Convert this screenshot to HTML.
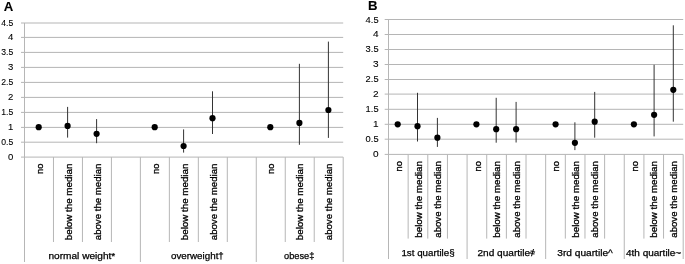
<!DOCTYPE html>
<html lang="en">
<head>
<meta charset="utf-8">
<title>Figure</title>
<style>
html,body{margin:0;padding:0;background:#fff;}
svg{display:block;font-family:"Liberation Sans", sans-serif;}
</style>
</head>
<body>
<svg width="685" height="264" viewBox="0 0 685 264">
<rect width="685" height="264" fill="#fff"/>
<line x1="21.00" y1="157.10" x2="343.20" y2="157.10" stroke="#b5b5b5" stroke-width="1"/>
<text x="13.30" y="159.70" font-size="9.5" text-anchor="end" textLength="5.3" lengthAdjust="spacingAndGlyphs" fill="#000" stroke="#000" stroke-width="0.1">0</text>
<line x1="21.00" y1="142.20" x2="343.20" y2="142.20" stroke="#b5b5b5" stroke-width="1"/>
<text x="13.30" y="144.80" font-size="9.5" text-anchor="end" textLength="12.0" lengthAdjust="spacingAndGlyphs" fill="#000" stroke="#000" stroke-width="0.1">0.5</text>
<line x1="21.00" y1="127.40" x2="343.20" y2="127.40" stroke="#b5b5b5" stroke-width="1"/>
<text x="13.30" y="130.00" font-size="9.5" text-anchor="end" textLength="5.3" lengthAdjust="spacingAndGlyphs" fill="#000" stroke="#000" stroke-width="0.1">1</text>
<line x1="21.00" y1="112.40" x2="343.20" y2="112.40" stroke="#b5b5b5" stroke-width="1"/>
<text x="13.30" y="115.00" font-size="9.5" text-anchor="end" textLength="12.0" lengthAdjust="spacingAndGlyphs" fill="#000" stroke="#000" stroke-width="0.1">1.5</text>
<line x1="21.00" y1="97.40" x2="343.20" y2="97.40" stroke="#b5b5b5" stroke-width="1"/>
<text x="13.30" y="100.00" font-size="9.5" text-anchor="end" textLength="5.3" lengthAdjust="spacingAndGlyphs" fill="#000" stroke="#000" stroke-width="0.1">2</text>
<line x1="21.00" y1="82.40" x2="343.20" y2="82.40" stroke="#b5b5b5" stroke-width="1"/>
<text x="13.30" y="85.00" font-size="9.5" text-anchor="end" textLength="12.0" lengthAdjust="spacingAndGlyphs" fill="#000" stroke="#000" stroke-width="0.1">2.5</text>
<line x1="21.00" y1="67.40" x2="343.20" y2="67.40" stroke="#b5b5b5" stroke-width="1"/>
<text x="13.30" y="70.00" font-size="9.5" text-anchor="end" textLength="5.3" lengthAdjust="spacingAndGlyphs" fill="#000" stroke="#000" stroke-width="0.1">3</text>
<line x1="21.00" y1="52.40" x2="343.20" y2="52.40" stroke="#b5b5b5" stroke-width="1"/>
<text x="13.30" y="55.00" font-size="9.5" text-anchor="end" textLength="12.0" lengthAdjust="spacingAndGlyphs" fill="#000" stroke="#000" stroke-width="0.1">3.5</text>
<line x1="21.00" y1="37.40" x2="343.20" y2="37.40" stroke="#b5b5b5" stroke-width="1"/>
<text x="13.30" y="40.00" font-size="9.5" text-anchor="end" textLength="5.3" lengthAdjust="spacingAndGlyphs" fill="#000" stroke="#000" stroke-width="0.1">4</text>
<line x1="21.00" y1="23.00" x2="343.20" y2="23.00" stroke="#b5b5b5" stroke-width="1"/>
<text x="13.30" y="25.60" font-size="9.5" text-anchor="end" textLength="12.0" lengthAdjust="spacingAndGlyphs" fill="#000" stroke="#000" stroke-width="0.1">4.5</text>
<line x1="24.50" y1="23.00" x2="24.50" y2="262.00" stroke="#b6b6b6" stroke-width="1"/>
<line x1="53.47" y1="157.10" x2="53.47" y2="242.00" stroke="#b6b6b6" stroke-width="1"/>
<line x1="82.45" y1="157.10" x2="82.45" y2="242.00" stroke="#b6b6b6" stroke-width="1"/>
<line x1="111.42" y1="157.10" x2="111.42" y2="242.00" stroke="#b6b6b6" stroke-width="1"/>
<line x1="140.39" y1="157.10" x2="140.39" y2="262.00" stroke="#b6b6b6" stroke-width="1"/>
<line x1="169.36" y1="157.10" x2="169.36" y2="242.00" stroke="#b6b6b6" stroke-width="1"/>
<line x1="198.34" y1="157.10" x2="198.34" y2="242.00" stroke="#b6b6b6" stroke-width="1"/>
<line x1="227.31" y1="157.10" x2="227.31" y2="242.00" stroke="#b6b6b6" stroke-width="1"/>
<line x1="256.28" y1="157.10" x2="256.28" y2="262.00" stroke="#b6b6b6" stroke-width="1"/>
<line x1="285.25" y1="157.10" x2="285.25" y2="242.00" stroke="#b6b6b6" stroke-width="1"/>
<line x1="314.23" y1="157.10" x2="314.23" y2="242.00" stroke="#b6b6b6" stroke-width="1"/>
<line x1="343.20" y1="157.10" x2="343.20" y2="262.00" stroke="#b6b6b6" stroke-width="1"/>
<text x="42.69" y="163.60" font-size="9.5" text-anchor="end" textLength="10.3" lengthAdjust="spacingAndGlyphs" transform="rotate(-90 42.69 163.60)" fill="#000" stroke="#000" stroke-width="0.3">no</text>
<text x="71.66" y="163.60" font-size="9.5" text-anchor="end" textLength="76.6" lengthAdjust="spacingAndGlyphs" transform="rotate(-90 71.66 163.60)" fill="#000" stroke="#000" stroke-width="0.3">below the median</text>
<text x="100.63" y="163.60" font-size="9.5" text-anchor="end" textLength="76.6" lengthAdjust="spacingAndGlyphs" transform="rotate(-90 100.63 163.60)" fill="#000" stroke="#000" stroke-width="0.3">above the median</text>
<text x="158.58" y="163.60" font-size="9.5" text-anchor="end" textLength="10.3" lengthAdjust="spacingAndGlyphs" transform="rotate(-90 158.58 163.60)" fill="#000" stroke="#000" stroke-width="0.3">no</text>
<text x="187.55" y="163.60" font-size="9.5" text-anchor="end" textLength="76.6" lengthAdjust="spacingAndGlyphs" transform="rotate(-90 187.55 163.60)" fill="#000" stroke="#000" stroke-width="0.3">below the median</text>
<text x="216.52" y="163.60" font-size="9.5" text-anchor="end" textLength="76.6" lengthAdjust="spacingAndGlyphs" transform="rotate(-90 216.52 163.60)" fill="#000" stroke="#000" stroke-width="0.3">above the median</text>
<text x="274.47" y="163.60" font-size="9.5" text-anchor="end" textLength="10.3" lengthAdjust="spacingAndGlyphs" transform="rotate(-90 274.47 163.60)" fill="#000" stroke="#000" stroke-width="0.3">no</text>
<text x="303.44" y="163.60" font-size="9.5" text-anchor="end" textLength="76.6" lengthAdjust="spacingAndGlyphs" transform="rotate(-90 303.44 163.60)" fill="#000" stroke="#000" stroke-width="0.3">below the median</text>
<text x="332.41" y="163.60" font-size="9.5" text-anchor="end" textLength="76.6" lengthAdjust="spacingAndGlyphs" transform="rotate(-90 332.41 163.60)" fill="#000" stroke="#000" stroke-width="0.3">above the median</text>
<text x="48.50" y="258.50" font-size="9.5" textLength="66.8" lengthAdjust="spacingAndGlyphs" fill="#000" stroke="#000" stroke-width="0.25">normal weight*</text>
<text x="171.00" y="258.50" font-size="9.5" textLength="52.8" lengthAdjust="spacingAndGlyphs" fill="#000" stroke="#000" stroke-width="0.25">overweight†</text>
<text x="284.00" y="258.50" font-size="9.5" textLength="30.3" lengthAdjust="spacingAndGlyphs" fill="#000" stroke="#000" stroke-width="0.25">obese‡</text>
<circle cx="38.70" cy="127.20" r="3.1" fill="#000"/>
<line x1="67.60" y1="106.90" x2="67.60" y2="137.60" stroke="#333" stroke-width="1"/>
<circle cx="67.60" cy="125.90" r="3.1" fill="#000"/>
<line x1="96.60" y1="119.10" x2="96.60" y2="143.20" stroke="#333" stroke-width="1"/>
<circle cx="96.60" cy="133.80" r="3.1" fill="#000"/>
<circle cx="154.70" cy="127.20" r="3.1" fill="#000"/>
<line x1="183.60" y1="129.40" x2="183.60" y2="152.60" stroke="#333" stroke-width="1"/>
<circle cx="183.60" cy="146.00" r="3.1" fill="#000"/>
<line x1="212.50" y1="91.30" x2="212.50" y2="134.00" stroke="#333" stroke-width="1"/>
<circle cx="212.50" cy="118.20" r="3.1" fill="#000"/>
<circle cx="270.30" cy="127.20" r="3.1" fill="#000"/>
<line x1="299.40" y1="63.80" x2="299.40" y2="144.80" stroke="#333" stroke-width="1"/>
<circle cx="299.40" cy="122.90" r="3.1" fill="#000"/>
<line x1="328.40" y1="41.60" x2="328.40" y2="137.90" stroke="#333" stroke-width="1"/>
<circle cx="328.40" cy="110.00" r="3.1" fill="#000"/>
<line x1="384.70" y1="154.40" x2="683.20" y2="154.40" stroke="#b5b5b5" stroke-width="1"/>
<text x="378.60" y="157.00" font-size="9.5" text-anchor="end" textLength="5.6" lengthAdjust="spacingAndGlyphs" fill="#000" stroke="#000" stroke-width="0.1">0</text>
<line x1="384.70" y1="139.20" x2="683.20" y2="139.20" stroke="#b5b5b5" stroke-width="1"/>
<text x="378.60" y="141.80" font-size="9.5" text-anchor="end" textLength="13.0" lengthAdjust="spacingAndGlyphs" fill="#000" stroke="#000" stroke-width="0.1">0.5</text>
<line x1="384.70" y1="124.30" x2="683.20" y2="124.30" stroke="#b5b5b5" stroke-width="1"/>
<text x="378.60" y="126.90" font-size="9.5" text-anchor="end" textLength="5.6" lengthAdjust="spacingAndGlyphs" fill="#000" stroke="#000" stroke-width="0.1">1</text>
<line x1="384.70" y1="109.30" x2="683.20" y2="109.30" stroke="#b5b5b5" stroke-width="1"/>
<text x="378.60" y="111.90" font-size="9.5" text-anchor="end" textLength="13.0" lengthAdjust="spacingAndGlyphs" fill="#000" stroke="#000" stroke-width="0.1">1.5</text>
<line x1="384.70" y1="94.10" x2="683.20" y2="94.10" stroke="#b5b5b5" stroke-width="1"/>
<text x="378.60" y="96.70" font-size="9.5" text-anchor="end" textLength="5.6" lengthAdjust="spacingAndGlyphs" fill="#000" stroke="#000" stroke-width="0.1">2</text>
<line x1="384.70" y1="79.50" x2="683.20" y2="79.50" stroke="#b5b5b5" stroke-width="1"/>
<text x="378.60" y="82.10" font-size="9.5" text-anchor="end" textLength="13.0" lengthAdjust="spacingAndGlyphs" fill="#000" stroke="#000" stroke-width="0.1">2.5</text>
<line x1="384.70" y1="64.50" x2="683.20" y2="64.50" stroke="#b5b5b5" stroke-width="1"/>
<text x="378.60" y="67.10" font-size="9.5" text-anchor="end" textLength="5.6" lengthAdjust="spacingAndGlyphs" fill="#000" stroke="#000" stroke-width="0.1">3</text>
<line x1="384.70" y1="49.50" x2="683.20" y2="49.50" stroke="#b5b5b5" stroke-width="1"/>
<text x="378.60" y="52.10" font-size="9.5" text-anchor="end" textLength="13.0" lengthAdjust="spacingAndGlyphs" fill="#000" stroke="#000" stroke-width="0.1">3.5</text>
<line x1="384.70" y1="34.50" x2="683.20" y2="34.50" stroke="#b5b5b5" stroke-width="1"/>
<text x="378.60" y="37.10" font-size="9.5" text-anchor="end" textLength="5.6" lengthAdjust="spacingAndGlyphs" fill="#000" stroke="#000" stroke-width="0.1">4</text>
<line x1="384.70" y1="19.50" x2="683.20" y2="19.50" stroke="#b5b5b5" stroke-width="1"/>
<text x="378.60" y="22.60" font-size="9.5" text-anchor="end" textLength="13.0" lengthAdjust="spacingAndGlyphs" fill="#000" stroke="#000" stroke-width="0.1">4.5</text>
<line x1="388.50" y1="19.50" x2="388.50" y2="259.00" stroke="#b6b6b6" stroke-width="1"/>
<line x1="408.15" y1="154.40" x2="408.15" y2="238.60" stroke="#b6b6b6" stroke-width="1"/>
<line x1="427.79" y1="154.40" x2="427.79" y2="238.60" stroke="#b6b6b6" stroke-width="1"/>
<line x1="447.44" y1="154.40" x2="447.44" y2="238.60" stroke="#b6b6b6" stroke-width="1"/>
<line x1="467.09" y1="154.40" x2="467.09" y2="259.00" stroke="#b6b6b6" stroke-width="1"/>
<line x1="486.73" y1="154.40" x2="486.73" y2="238.60" stroke="#b6b6b6" stroke-width="1"/>
<line x1="506.38" y1="154.40" x2="506.38" y2="238.60" stroke="#b6b6b6" stroke-width="1"/>
<line x1="526.03" y1="154.40" x2="526.03" y2="238.60" stroke="#b6b6b6" stroke-width="1"/>
<line x1="545.67" y1="154.40" x2="545.67" y2="259.00" stroke="#b6b6b6" stroke-width="1"/>
<line x1="565.32" y1="154.40" x2="565.32" y2="238.60" stroke="#b6b6b6" stroke-width="1"/>
<line x1="584.97" y1="154.40" x2="584.97" y2="238.60" stroke="#b6b6b6" stroke-width="1"/>
<line x1="604.61" y1="154.40" x2="604.61" y2="238.60" stroke="#b6b6b6" stroke-width="1"/>
<line x1="624.26" y1="154.40" x2="624.26" y2="259.00" stroke="#b6b6b6" stroke-width="1"/>
<line x1="643.91" y1="154.40" x2="643.91" y2="238.60" stroke="#b6b6b6" stroke-width="1"/>
<line x1="663.55" y1="154.40" x2="663.55" y2="238.60" stroke="#b6b6b6" stroke-width="1"/>
<line x1="683.20" y1="154.40" x2="683.20" y2="259.00" stroke="#b6b6b6" stroke-width="1"/>
<text x="402.02" y="161.10" font-size="9.5" text-anchor="end" textLength="10.3" lengthAdjust="spacingAndGlyphs" transform="rotate(-90 402.02 161.10)" fill="#000" stroke="#000" stroke-width="0.3">no</text>
<text x="421.67" y="161.10" font-size="9.5" text-anchor="end" textLength="76.6" lengthAdjust="spacingAndGlyphs" transform="rotate(-90 421.67 161.10)" fill="#000" stroke="#000" stroke-width="0.3">below the median</text>
<text x="441.32" y="161.10" font-size="9.5" text-anchor="end" textLength="76.6" lengthAdjust="spacingAndGlyphs" transform="rotate(-90 441.32 161.10)" fill="#000" stroke="#000" stroke-width="0.3">above the median</text>
<text x="480.61" y="161.10" font-size="9.5" text-anchor="end" textLength="10.3" lengthAdjust="spacingAndGlyphs" transform="rotate(-90 480.61 161.10)" fill="#000" stroke="#000" stroke-width="0.3">no</text>
<text x="500.26" y="161.10" font-size="9.5" text-anchor="end" textLength="76.6" lengthAdjust="spacingAndGlyphs" transform="rotate(-90 500.26 161.10)" fill="#000" stroke="#000" stroke-width="0.3">below the median</text>
<text x="519.90" y="161.10" font-size="9.5" text-anchor="end" textLength="76.6" lengthAdjust="spacingAndGlyphs" transform="rotate(-90 519.90 161.10)" fill="#000" stroke="#000" stroke-width="0.3">above the median</text>
<text x="559.20" y="161.10" font-size="9.5" text-anchor="end" textLength="10.3" lengthAdjust="spacingAndGlyphs" transform="rotate(-90 559.20 161.10)" fill="#000" stroke="#000" stroke-width="0.3">no</text>
<text x="578.84" y="161.10" font-size="9.5" text-anchor="end" textLength="76.6" lengthAdjust="spacingAndGlyphs" transform="rotate(-90 578.84 161.10)" fill="#000" stroke="#000" stroke-width="0.3">below the median</text>
<text x="598.49" y="161.10" font-size="9.5" text-anchor="end" textLength="76.6" lengthAdjust="spacingAndGlyphs" transform="rotate(-90 598.49 161.10)" fill="#000" stroke="#000" stroke-width="0.3">above the median</text>
<text x="637.78" y="161.10" font-size="9.5" text-anchor="end" textLength="10.3" lengthAdjust="spacingAndGlyphs" transform="rotate(-90 637.78 161.10)" fill="#000" stroke="#000" stroke-width="0.3">no</text>
<text x="657.43" y="161.10" font-size="9.5" text-anchor="end" textLength="76.6" lengthAdjust="spacingAndGlyphs" transform="rotate(-90 657.43 161.10)" fill="#000" stroke="#000" stroke-width="0.3">below the median</text>
<text x="677.08" y="161.10" font-size="9.5" text-anchor="end" textLength="76.6" lengthAdjust="spacingAndGlyphs" transform="rotate(-90 677.08 161.10)" fill="#000" stroke="#000" stroke-width="0.3">above the median</text>
<text x="401.40" y="256.00" font-size="9.5" textLength="53.2" lengthAdjust="spacingAndGlyphs" fill="#000" stroke="#000" stroke-width="0.25">1st quartile§</text>
<text x="477.50" y="256.00" font-size="9.5" textLength="57.7" lengthAdjust="spacingAndGlyphs" fill="#000" stroke="#000" stroke-width="0.25">2nd quartile҂</text>
<text x="557.30" y="256.00" font-size="9.5" textLength="55.5" lengthAdjust="spacingAndGlyphs" fill="#000" stroke="#000" stroke-width="0.25">3rd quartile^</text>
<text x="626.00" y="256.00" font-size="9.5" textLength="55.2" lengthAdjust="spacingAndGlyphs" fill="#000" stroke="#000" stroke-width="0.25">4th quartile~</text>
<circle cx="397.70" cy="124.30" r="3.1" fill="#000"/>
<line x1="417.50" y1="92.80" x2="417.50" y2="141.50" stroke="#333" stroke-width="1"/>
<circle cx="417.50" cy="126.20" r="3.1" fill="#000"/>
<line x1="437.40" y1="117.90" x2="437.40" y2="146.90" stroke="#333" stroke-width="1"/>
<circle cx="437.40" cy="137.70" r="3.1" fill="#000"/>
<circle cx="476.40" cy="124.30" r="3.1" fill="#000"/>
<line x1="496.20" y1="97.80" x2="496.20" y2="142.70" stroke="#333" stroke-width="1"/>
<circle cx="496.20" cy="129.20" r="3.1" fill="#000"/>
<line x1="516.10" y1="101.90" x2="516.10" y2="142.50" stroke="#333" stroke-width="1"/>
<circle cx="516.10" cy="129.20" r="3.1" fill="#000"/>
<circle cx="555.60" cy="124.30" r="3.1" fill="#000"/>
<line x1="574.90" y1="122.30" x2="574.90" y2="150.10" stroke="#333" stroke-width="1"/>
<circle cx="574.90" cy="142.80" r="3.1" fill="#000"/>
<line x1="594.70" y1="91.90" x2="594.70" y2="137.70" stroke="#333" stroke-width="1"/>
<circle cx="594.70" cy="121.70" r="3.1" fill="#000"/>
<circle cx="633.90" cy="124.30" r="3.1" fill="#000"/>
<line x1="654.10" y1="64.80" x2="654.10" y2="136.40" stroke="#333" stroke-width="1"/>
<circle cx="654.10" cy="114.80" r="3.1" fill="#000"/>
<line x1="673.30" y1="25.30" x2="673.30" y2="121.70" stroke="#333" stroke-width="1"/>
<circle cx="673.30" cy="89.80" r="3.1" fill="#000"/>
<text x="3.70" y="10.50" font-size="13.2" font-weight="bold" fill="#000" stroke="#000" stroke-width="0.1">A</text>
<text x="367.90" y="10.40" font-size="13.2" font-weight="bold" fill="#000" stroke="#000" stroke-width="0.1">B</text>
</svg>
</body>
</html>
